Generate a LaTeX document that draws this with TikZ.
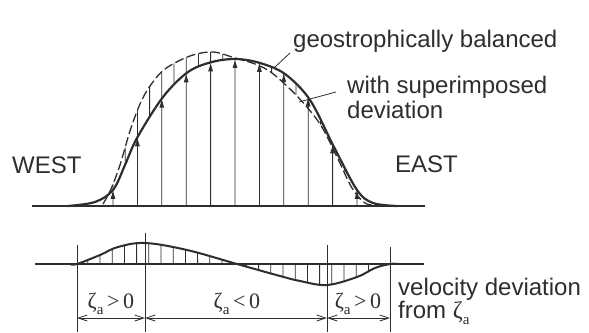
\documentclass[tikz,border=0pt]{standalone}
\usepackage{fontspec}
\setmainfont{Liberation Sans}
\newfontfamily\seriffont{Liberation Serif}
\usetikzlibrary{arrows.meta,intersections}
\definecolor{ink}{HTML}{2E2E2E}
\newcommand{\zsub}{{\seriffont ζ\raisebox{-0.28em}{\fontsize{15}{15}\selectfont a}}}
\begin{document}
\begin{tikzpicture}[x=1pt,y=-1pt,
  every node/.style={inner sep=0pt, text=ink},
  lbl/.style={font=\fontsize{24}{28}\selectfont, anchor=base west},
  zlbl/.style={font=\seriffont\fontsize{22}{26}\selectfont, anchor=base},
  axisline/.style={draw=ink, line width=1.4pt},
  profile/.style={draw=ink, line width=2.2pt},
  deviated/.style={draw=ink, line width=1.3pt, dash pattern=on 9pt off 3.5pt},
  hatch/.style={draw=ink, line width=0.8pt},
  vec/.style={draw=ink, line width=0.8pt, -{Latex[length=9pt,width=5pt]}},
  bound/.style={draw=ink, line width=0.8pt},
  dim/.style={draw=ink, line width=0.8pt, {Straight Barb[length=9pt,width=6pt]}-{Straight Barb[length=9pt,width=6pt]}},
  leader/.style={draw=ink, line width=0.8pt}
]
\fill[white] (0,0) rectangle (589,332);
\useasboundingbox (0,0) rectangle (589,332);

% ---------- upper panel ----------
\draw[axisline] (32,206) -- (425,206);
\draw[profile, name path=solidc] plot[smooth, tension=0.55] coordinates {
  (68,206) (95,202) (113,190) (125,165) (137,138) (163,97) (188,72)
  (212,62) (236,59) (260,63) (285,74) (310,100) (334,147) (357,190)
  (373,203) (397,206)};
\draw[deviated, name path=dashc] plot[smooth, tension=0.55] coordinates {
  (103,204) (111,189) (120,165) (130,131) (140,104) (150,86) (165,69)
  (190,56) (213,52) (235,58) (255,64) (272,73) (297,96) (320,124)
  (337,157) (352,188) (365,203) (380,206)};

\foreach \i in {0,...,20}{
  \pgfmathsetmacro\xx{113+12.2*\i}
  \path[name path=vl] (\xx,0) -- (\xx,215);
  \path[name intersections={of=vl and solidc, by=s}];
  \path[name intersections={of=vl and dashc, by=d}];
  \draw[hatch] (s) -- (d);
  \ifodd\i\relax\else\draw[vec] (\xx,206) -- (s);\fi
}

\node[lbl] (geo) at (293,47) {geostrophically balanced};
\node[lbl] (sup) at (347,93) {with superimposed};
\node[lbl] (dev) at (347,118) {deviation};
\node[lbl] (east) at (395,172) {EAST};
\node[lbl] (west) at (12,173) {WEST};

\coordinate (g1) at (290,53);
\coordinate (g2) at (275,67);
\coordinate (w1) at (336,92);
\coordinate (w2) at (299,102);
\draw[leader] (g1) -- (g2);
\draw[leader] (w1) -- (w2);

% ---------- lower panel ----------
\draw[axisline] (35,264) -- (424,264);
\draw[profile, line width=2pt, name path=lowc] plot[smooth, tension=0.6] coordinates {
  (70,264) (77,264) (100,255) (118,247) (145,243) (187,250) (237,264)
  (280,276) (300,281) (327,285) (357,277) (375,268) (390,264) (398,264)};

\foreach \k in {-1,...,23}{
  \pgfmathsetmacro\xx{100+12.2*\k}
  \path[name path=vl] (\xx,200) -- (\xx,310);
  \path[name intersections={of=vl and lowc, by=q}];
  \draw[hatch] (\xx,264) -- (q);
}

\coordinate (b1t) at (77,245);  \coordinate (b1) at (77,332);
\coordinate (b2t) at (145,233); \coordinate (b2) at (145,332);
\coordinate (b3t) at (327,245); \coordinate (b3) at (327,332);
\coordinate (b4t) at (390,247); \coordinate (b4) at (390,332);
\draw[bound] (b1t) -- (b1);
\draw[bound] (b2t) -- (b2);
\draw[bound] (b3t) -- (b3);
\draw[bound] (b4t) -- (b4);

\coordinate (d1) at (77,318);
\coordinate (d2) at (145,318);
\coordinate (d3) at (327,318);
\coordinate (d4) at (390,318);
\draw[dim] (d1) -- (d2);
\draw[dim] (d2) -- (d3);
\draw[dim] (d3) -- (d4);

\node[zlbl] (z1) at (111,308) {\zsub\,>\,0};
\node[zlbl] (z2) at (237,308) {\zsub\,<\,0};
\node[zlbl] (z3) at (358,308) {\zsub\,>\,0};

\node[lbl] (vel) at (398,295) {velocity deviation};
\node[lbl] (from) at (398,318) {from \zsub};
\end{tikzpicture}
\end{document}
